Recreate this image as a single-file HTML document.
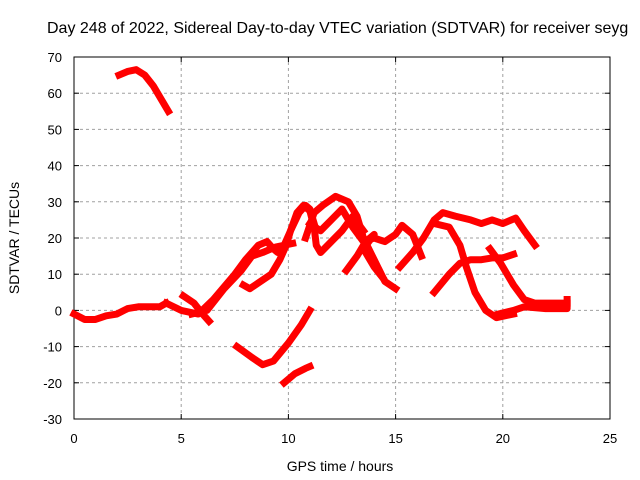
<!DOCTYPE html>
<html><head><meta charset="utf-8"><style>body{margin:0;background:#fff}svg{display:block;font-family:"Liberation Sans",sans-serif}</style></head>
<body>
<svg id="c" width="640" height="480"></svg>
<script>
const xTicks=[0,5,10,15,20,25];
const yTicks=[-30,-20,-10,0,10,20,30,40,50,60,70];
const arc1=[[0,-1],[0.5,-2.5],[1,-2.5],[1.5,-1.5],[2,-1],[2.5,0.5],[3,1],[3.5,1],[4,1],[4.3,2]];
const arc2=[[2.1,65],[2.5,66],[2.9,66.5],[3.3,65],[3.7,62],[4.1,58],[4.4,55]];
const arc3=[[4.3,2],[5,0],[5.8,-1],[6.5,3],[7.5,10],[8,14],[8.6,18],[9,19],[9.3,17],[9.5,16],[9.8,18],[10.2,18.5]];
const arc4=[[5.5,-1],[6.2,0],[7,6],[7.8,11],[8.3,15],[8.8,16],[9.4,17.5],[9.8,18],[10.1,22],[10.5,27],[10.8,29],[11,28],[11.2,24]];
const arc5=[[7.9,7],[8.2,6],[8.7,8],[9.2,10],[9.6,14],[9.9,18],[10.1,22],[10.4,27],[10.7,29],[11,27.5],[11.2,23],[11.3,18],[11.5,16],[12,19],[12.5,22],[13,26],[13.5,22]];
const arc6=[[10.8,20],[11.2,27],[11.6,29],[12.2,31.5],[12.8,30],[13.2,26],[13.5,20],[14,14],[14.5,8],[15,6]];
const arc7=[[11,24],[11.5,22],[12,25],[12.5,28],[13,23],[13.5,19],[14,20],[14.5,19],[15,21],[15.3,23.5],[15.8,21],[16.2,15]];
const arc8=[[12.7,11],[13.2,15],[13.6,19],[14,21],[13.5,17],[14,12],[14.4,9]];
const arc9=[[15.2,12],[15.8,16],[16.3,20],[16.8,25],[17.2,27],[17.8,26],[18.5,25],[19,24],[19.5,25],[20,24],[20.6,25.5],[21,22],[21.5,18]];
const arc10=[[16.8,24],[17.5,23],[18,18],[18.3,12],[18.7,5],[19.2,0],[19.7,-2],[20.5,-1]];
const arc11=[[16.8,5],[17.5,10],[18,13],[18.5,14],[19,14],[19.5,14.5],[20,14.5],[20.5,15.5]];
const arc12=[[19.4,17],[19.9,13],[20.5,7],[21,3],[21.5,2],[22.5,2],[23,2]];
const arc13=[[19.8,-1],[20.5,0],[21,1],[22,0.5],[23,0.5],[23,3]];
const arc14=[[7.6,-10],[8.3,-13],[8.8,-15],[9.3,-14],[10,-9],[10.6,-4],[11,0]];
const arc15=[[9.8,-20],[10.3,-17.5],[10.8,-16],[11,-15.5]];
const arc16=[[5.1,4],[5.6,2],[6,-1],[6.3,-3]];
const arcs=[arc1,arc2,arc3,arc4,arc5,arc6,arc7,arc8,arc9,arc10,arc11,arc12,arc13,arc14,arc15,arc16];
const X0=74,X1=610,Y0=419,Y1=57;
const xs=h=>X0+h*(X1-X0)/25;
const ys=v=>Y0-(v+30)*(Y0-Y1)/100;
const NS="http://www.w3.org/2000/svg";
const svg=document.getElementById('c');
function mk(t,a,p){const e=document.createElementNS(NS,t);for(const k in a)e.setAttribute(k,a[k]);(p||svg).appendChild(e);return e;}
const grid=mk('g',{});


xTicks.forEach(t=>{
 if(t>0&&t<25){mk('line',{x1:xs(t),x2:xs(t),y1:Y0,y2:Y1,stroke:'#a0a0a0','stroke-dasharray':'3,3'},grid);}
 const tx=mk('text',{x:xs(t),y:443,'text-anchor':'middle','font-size':13,fill:'#000'});
 tx.textContent=t;
 
 
 mk('line',{x1:xs(t),x2:xs(t),y1:Y0,y2:Y0-5,stroke:'#000'});
 mk('line',{x1:xs(t),x2:xs(t),y1:Y1,y2:Y1+5,stroke:'#000'});
});
yTicks.forEach(t=>{
 if(t>-30&&t<70)mk('line',{x1:X0,x2:X1,y1:ys(t),y2:ys(t),stroke:'#a0a0a0','stroke-dasharray':'3,3'},grid);
 const tx=mk('text',{x:62,y:ys(t)+5,'text-anchor':'end','font-size':13,fill:'#000'});
 tx.textContent=t;
 
 
 mk('line',{x1:X0,x2:X0+5,y1:ys(t),y2:ys(t),stroke:'#000'});
 mk('line',{x1:X1,x2:X1-5,y1:ys(t),y2:ys(t),stroke:'#000'});
});
const frame=mk('rect',{x:X0,y:Y1,width:X1-X0,height:Y0-Y1,fill:'none',stroke:'#000'});


arcs.forEach(a=>{
 const p=mk('polyline',{points:a.map(d=>xs(d[0])+','+ys(d[1])).join(' '),fill:'none',stroke:'#ff0000','stroke-width':7,'stroke-linejoin':'round','stroke-linecap':'square'});
 
 
});
const ti=mk('text',{x:47,y:33,'font-size':16,fill:'#000'});
ti.textContent='Day 248 of 2022, Sidereal Day-to-day VTEC variation (SDTVAR) for receiver seyg';


const xl=mk('text',{x:340,y:471,'text-anchor':'middle','font-size':14,fill:'#000'});
xl.textContent='GPS time / hours';


const yl=mk('text',{x:0,y:0,'text-anchor':'middle','font-size':14,fill:'#000',transform:'translate(19,238) rotate(-90)'});
yl.textContent='SDTVAR / TECUs';


</script>
</body></html>
